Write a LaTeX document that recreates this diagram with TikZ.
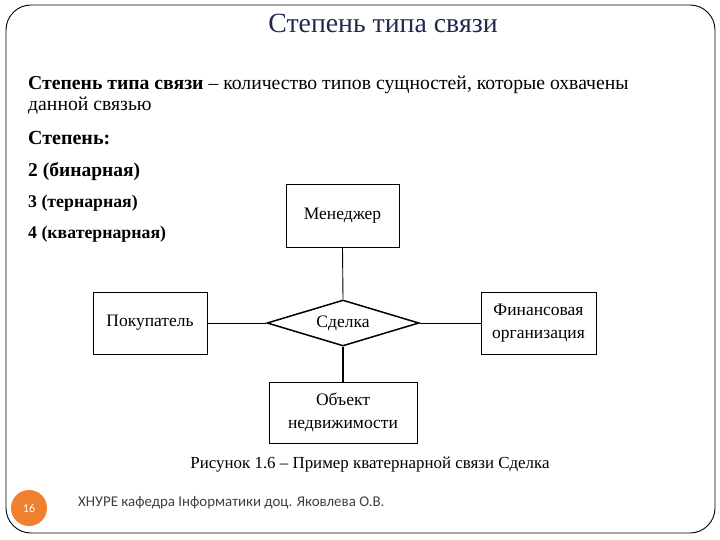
\documentclass[tikz,border=0pt]{standalone}
\usepackage{fontspec}
\setmainfont{Liberation Serif}
\newfontfamily\footfont{Carlito}
\usetikzlibrary{shapes.geometric}
\definecolor{titlecol}{HTML}{1F2B4D}
\definecolor{orangec}{HTML}{F07F2E}
\begin{document}
\begin{tikzpicture}[x=1pt,y=-1pt,
  ent/.style={draw,line width=0.9pt,minimum width=112pt,minimum height=62pt,align=center,font=\fontsize{17.5}{23}\selectfont,inner sep=2pt},
  rel/.style={draw,diamond,line width=1.5pt,minimum width=152pt,minimum height=46pt,aspect=3.3,inner sep=0pt,font=\fontsize{17.5}{21}\selectfont},
  conn/.style={line width=0.9pt},
  txt/.style={anchor=base west,inner sep=0pt}]
\useasboundingbox (0,0) rectangle (720,540);
\draw[line width=0.9pt,rounded corners=25pt] (6,5) rectangle (715,533);
\node[anchor=base,inner sep=0pt,text=titlecol,font=\fontsize{27.8}{32}\selectfont] (title) at (383,33) {Степень типа связи};
\node[txt,font=\fontsize{19.7}{23}\selectfont] (def1) at (28,90) {\textbf{Степень типа связи} – количество типов сущностей, которые охвачены};
\node[txt,font=\fontsize{19.7}{23}\selectfont] (def2) at (28,111) {данной связью};
\node[txt,font=\fontsize{20}{23}\selectfont\bfseries] (deg) at (28,145) {Степень:};
\node[txt,font=\fontsize{19.5}{23}\selectfont\bfseries] (d2) at (28,177) {2 (бинарная)};
\node[txt,font=\fontsize{17.8}{21}\selectfont\bfseries] (d3) at (28,207.5) {3 (тернарная)};
\node[txt,font=\fontsize{17.8}{21}\selectfont\bfseries] (d4) at (28,238) {4 (кватернарная)};
\node[ent,minimum width=113pt,minimum height=63pt] (man) at (342.5,215.5) {Менеджер};
\node[ent,minimum width=114pt,minimum height=62pt] (buy) at (150,323) {Покупатель};
\node[rel] (deal) at (343,323) {Сделка};
\node[ent,minimum width=115pt,minimum height=62pt] (fin) at (538.5,323) {Финансовая\\организация};
\node[ent,minimum width=148pt,minimum height=61pt] (obj) at (343,412.5) {Объект\\недвижимости};
\draw[conn] (man.south) -- (deal.north);
\draw[conn] (buy.east) -- (deal.west);
\draw[conn] (deal.east) -- (fin.west);
\draw[line width=1.5pt] (deal.south) -- (obj.north);
\node[anchor=base,inner sep=0pt,font=\fontsize{16.9}{20}\selectfont] (cap) at (370,468) {Рисунок 1.6 – Пример кватернарной связи Сделка};
\node[circle,fill=orangec,minimum size=36pt,inner sep=0pt,text=white,font=\footfont\fontsize{12}{14}\selectfont] (num) at (29,508) {16};
\node[anchor=west,inner sep=0pt,text=black!75,font=\footfont\fontsize{14.9}{17}\selectfont] (foot) at (78,503) {ХНУРЕ кафедра Інформатики доц. Яковлева О.В.};
\end{tikzpicture}
\end{document}
